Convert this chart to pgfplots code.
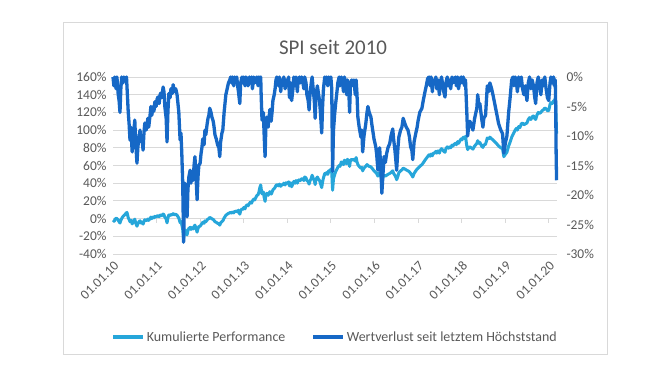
\documentclass[border=0pt]{standalone}
\usepackage{pgfplots}
\pgfplotsset{compat=1.18}
\usepackage{fontspec}
\setmainfont{Carlito}
\definecolor{lblue}{RGB}{38,166,218}
\definecolor{dblue}{RGB}{22,104,198}
\definecolor{gridc}{RGB}{217,217,217}
\definecolor{txt}{RGB}{89,89,89}
\begin{document}
\begin{tikzpicture}
\useasboundingbox (0bp,0bp) rectangle (670bp,377bp);
\fill[white] (0bp,0bp) rectangle (670bp,377bp);
\draw[gridc, line width=0.8bp] (63bp,23bp) rectangle (607bp,355bp);
\node[text=txt, font=\fontsize{21}{25}\selectfont] at (333bp,330bp) {SPI seit 2010};
\begin{axis}[
  at={(113bp,123bp)}, anchor=south west, scale only axis,
  width=444bp, height=177bp,
  xmin=2010, xmax=2020.19, ymin=-40, ymax=160,
  clip=false,
  axis line style={draw=none}, major tick style={draw=none},
  ytick={-40,-20,0,20,40,60,80,100,120,140,160},
  yticklabels={-40\%,-20\%,0\%,20\%,40\%,60\%,80\%,100\%,120\%,140\%,160\%},
  xtick={2010,2011,2012,2013,2014,2015,2016,2017,2018,2019,2020},
  xticklabels={01.01.10,01.01.11,01.01.12,01.01.13,01.01.14,01.01.15,01.01.16,01.01.17,01.01.18,01.01.19,01.01.20},
  ymajorgrids, grid style={gridc, line width=0.8bp},
  yticklabel style={text=txt, font=\fontsize{13.5}{15}\selectfont, xshift=-3bp},
  xticklabel style={text=txt, font=\fontsize{13.5}{15}\selectfont, rotate=45, anchor=east, inner sep=1bp, yshift=-9bp, xshift=-3bp},
]
\pgfplotsinvokeforeach{2010,2011,...,2020}{\draw[gridc, line width=0.8bp] (axis cs:#1,0) -- ([yshift=-4bp]axis cs:#1,0);}
\addplot[lblue, line width=3bp, line join=round] coordinates {
(2010.00,-1.6)(2010.03,-3)(2010.05,-0.5)(2010.08,0.5)(2010.11,-1)(2010.14,-3.5)(2010.16,-5)(2010.18,-2)(2010.21,1)(2010.24,3)(2010.27,4.5)(2010.30,6)(2010.32,7)(2010.35,1)(2010.37,-1)(2010.39,-3.5)(2010.42,-2)(2010.44,-6)(2010.46,-4)(2010.50,-0.7)(2010.52,-4.8)(2010.55,-8.6)(2010.57,-6)(2010.59,-4)(2010.62,-2.5)(2010.64,-5)(2010.66,-4)(2010.69,-6.2)(2010.71,-3.2)(2010.73,-1.3)(2010.76,-2.6)(2010.78,-1.5)(2010.80,-0.5)(2010.82,-2)(2010.85,0)(2010.87,1.7)(2010.89,0)(2010.92,1.7)(2010.94,0.8)(2010.96,2.5)(2010.99,1.6)
(2011.01,2.9)(2011.03,3.4)(2011.06,2.2)(2011.08,3.8)(2011.10,4.1)(2011.12,3.3)(2011.15,5.2)(2011.17,4.3)(2011.19,1.6)(2011.22,-0.5)(2011.24,-4.8)(2011.26,0.6)(2011.28,4)(2011.31,3.3)(2011.33,4.9)(2011.36,4)(2011.38,5.6)(2011.41,4.3)(2011.44,4.9)(2011.47,3.8)(2011.51,0.7)(2011.54,-4.5)(2011.56,-3.2)(2011.58,-7.1)(2011.60,-12.3)(2011.62,-23)(2011.63,-18.7)(2011.65,-12.3)(2011.67,-15.5)(2011.70,-18.4)(2011.72,-13.3)(2011.74,-11.2)(2011.77,-9.9)(2011.79,-12.3)(2011.81,-10.1)(2011.84,-11.7)(2011.86,-9)(2011.88,-7.4)(2011.90,-10.1)(2011.93,-15.3)(2011.95,-11.2)(2011.97,-9)
(2012.00,-8.6)(2012.02,-6.9)(2012.04,-5.8)(2012.06,-4.2)(2012.09,-5.3)(2012.11,-2.6)(2012.13,-3.5)(2012.16,-1.6)(2012.18,-0.5)(2012.20,0)(2012.22,1.3)(2012.25,0.6)(2012.27,-0.3)(2012.30,-1)(2012.32,-2.1)(2012.34,-3.5)(2012.37,-4.2)(2012.40,-5.3)(2012.43,-5.8)(2012.45,-7.4)(2012.47,-4.8)(2012.50,-3.2)(2012.52,-2.6)(2012.55,0.6)(2012.57,2.2)(2012.59,3.8)(2012.62,4.9)(2012.65,5.9)(2012.68,6.5)(2012.70,7.2)(2012.72,6.3)(2012.74,7.6)(2012.77,6.5)(2012.79,8.2)(2012.81,7.9)(2012.84,8.8)(2012.86,7.4)(2012.88,9.5)(2012.91,5)(2012.93,9)(2012.96,11)(2012.98,10.5)
(2013.00,12.5)(2013.03,11)(2013.05,14)(2013.08,15.5)(2013.10,14.5)(2013.13,17)(2013.15,18.5)(2013.18,17.5)(2013.20,20)(2013.23,22)(2013.25,21)(2013.28,24)(2013.30,26)(2013.33,27)(2013.35,30)(2013.37,35)(2013.39,38)(2013.40,34)(2013.42,28)(2013.45,30)(2013.47,24)(2013.49,19.5)(2013.51,27)(2013.53,28.6)(2013.56,26.3)(2013.58,28.3)(2013.60,30.4)(2013.63,27.7)(2013.65,29.7)(2013.67,32.5)(2013.70,33.9)(2013.72,35.2)(2013.74,37.3)(2013.76,38.5)(2013.80,37)(2013.82,39)(2013.85,36.5)(2013.87,38.5)(2013.90,38)(2013.92,40)(2013.95,38)(2013.97,40.5)
(2014.00,39.5)(2014.03,41.5)(2014.05,37)(2014.08,40.5)(2014.10,36)(2014.13,39.5)(2014.15,42)(2014.18,40)(2014.20,43)(2014.23,40)(2014.25,43)(2014.28,44)(2014.30,43)(2014.33,45)(2014.35,45)(2014.38,43)(2014.40,47)(2014.43,46)(2014.45,43)(2014.48,42)(2014.50,39)(2014.52,42.5)(2014.55,45.5)(2014.57,49)(2014.60,45)(2014.62,43)(2014.64,38.5)(2014.66,44.5)(2014.69,47)(2014.71,45)(2014.74,43)(2014.76,40)(2014.79,35)(2014.81,41.5)(2014.83,46)(2014.86,51)(2014.88,50)(2014.90,52)(2014.93,50)(2014.95,54)(2014.98,53)
(2015.00,56)(2015.02,52.5)(2015.04,32)(2015.06,45)(2015.09,50)(2015.11,53)(2015.14,56)(2015.16,58)(2015.19,60)(2015.21,59)(2015.24,64)(2015.26,63)(2015.29,61)(2015.31,66)(2015.34,64)(2015.36,62)(2015.38,67)(2015.41,64)(2015.43,59)(2015.45,66)(2015.48,67)(2015.51,66)(2015.53,67)(2015.56,65)(2015.58,69)(2015.60,64)(2015.62,61)(2015.65,59)(2015.69,57)(2015.71,58)(2015.73,54)(2015.76,57)(2015.80,59)(2015.83,61)(2015.85,60)(2015.88,59)(2015.92,58.5)(2015.94,57)(2015.96,56)(2015.99,54)
(2016.03,52)(2016.05,51)(2016.08,48)(2016.10,51)(2016.12,52)(2016.15,47)(2016.17,43)(2016.20,47)(2016.22,49)(2016.25,48)(2016.28,49)(2016.31,50)(2016.35,51)(2016.38,52)(2016.42,54)(2016.44,51)(2016.47,49)(2016.49,47)(2016.51,44)(2016.54,48)(2016.56,52)(2016.60,54)(2016.63,55)(2016.66,57)(2016.70,56)(2016.73,55)(2016.77,54)(2016.80,53)(2016.83,51)(2016.86,49)(2016.88,47)(2016.91,51)(2016.95,54)(2016.98,56)
(2017.00,57)(2017.04,59)(2017.09,61)(2017.12,63)(2017.16,66)(2017.19,68)(2017.22,70)(2017.25,72)(2017.28,70.5)(2017.30,73)(2017.33,71)(2017.35,74)(2017.38,74)(2017.41,76)(2017.43,74)(2017.46,76.5)(2017.49,74)(2017.51,77)(2017.54,79)(2017.57,77.5)(2017.59,76)(2017.62,75)(2017.64,79)(2017.67,81)(2017.70,79.5)(2017.72,81)(2017.75,80)(2017.78,83)(2017.80,82)(2017.83,84)(2017.86,85)(2017.88,83.5)(2017.91,87)(2017.93,85)(2017.96,88)(2017.99,90)
(2018.01,89)(2018.04,92)(2018.07,90.5)(2018.09,93)(2018.12,82)(2018.14,78)(2018.16,80)(2018.19,81)(2018.22,80)(2018.26,78.5)(2018.30,82)(2018.35,85)(2018.37,88)(2018.40,85)(2018.42,86)(2018.46,82)(2018.49,80.5)(2018.51,83)(2018.55,84)(2018.59,91)(2018.62,90)(2018.65,92)(2018.69,90)(2018.72,89)(2018.76,87)(2018.80,85)(2018.85,82)(2018.90,80)(2018.94,79)(2018.97,70)
(2019.01,73)(2019.04,75)(2019.08,82)(2019.11,86)(2019.15,92)(2019.18,95)(2019.20,97)(2019.23,100)(2019.26,102)(2019.28,100)(2019.31,104)(2019.34,103)(2019.37,107)(2019.40,108)(2019.43,106)(2019.46,107)(2019.50,108)(2019.53,112)(2019.56,114)(2019.59,112)(2019.62,115)(2019.65,116)(2019.68,113)(2019.70,112)(2019.73,117)(2019.76,120)(2019.79,119)(2019.82,120)(2019.85,122)(2019.88,123)(2019.91,125)(2019.94,124)(2019.97,122)
(2020.00,122)(2020.03,129)(2020.05,131)(2020.08,130)(2020.11,133)(2020.13,132)(2020.15,136)(2020.16,130)(2020.17,114)(2020.18,96)
};
\end{axis}
\begin{axis}[
  at={(113bp,123bp)}, anchor=south west, scale only axis,
  width=444bp, height=177bp,
  xmin=2010, xmax=2020.19, ymin=-30, ymax=0,
  clip=false,
  hide x axis, axis y line*=right,
  axis line style={draw=none}, major tick style={draw=none},
  ytick={-30,-25,-20,-15,-10,-5,0},
  yticklabels={-30\%,-25\%,-20\%,-15\%,-10\%,-5\%,0\%},
  yticklabel style={text=txt, font=\fontsize{13.5}{15}\selectfont, xshift=6bp, anchor=west},
  legend columns=2,
  legend style={at={(0.5,-0.47)}, anchor=center, draw=none, fill=none, font=\fontsize{14}{16}\selectfont, text=txt,
    /tikz/every even column/.append style={column sep=24bp}},
  legend image code/.code={\draw[#1] (0bp,0bp) -- (30bp,0bp);},
]
\addlegendimage{lblue, line width=3.5bp}
\addlegendentry{Kumulierte Performance}
\addlegendimage{dblue, line width=3.5bp}
\addlegendentry{Wertverlust seit letztem Höchststand}
\addplot[dblue, line width=3.3bp, line join=round, forget plot] coordinates {
(2010.00,0)(2010.02,-1.5)(2010.04,0)(2010.07,-2)(2010.09,0)(2010.12,-3)(2010.14,-4)(2010.16,-6)(2010.18,-2)(2010.20,0)(2010.23,-1)(2010.25,0)(2010.28,-0.5)(2010.31,0)(2010.33,-3)(2010.35,-6)(2010.37,-8)(2010.39,-10.7)(2010.41,-8.5)(2010.44,-12.7)(2010.46,-10)(2010.48,-9)(2010.50,-7.3)(2010.52,-11)(2010.55,-14.6)(2010.57,-12)(2010.59,-10.5)(2010.62,-9)(2010.64,-11)(2010.66,-10)(2010.69,-12.4)(2010.71,-9.5)(2010.73,-7.8)(2010.76,-9)(2010.78,-8)(2010.80,-7)(2010.82,-8.5)(2010.85,-6.5)(2010.87,-5)(2010.89,-6.5)(2010.92,-5)(2010.94,-5.8)(2010.96,-4.2)(2010.99,-5)
(2011.01,-3.8)(2011.03,-3.4)(2011.06,-4.5)(2011.08,-3)(2011.10,-2.7)(2011.12,-3.5)(2011.15,-1.7)(2011.17,-2.5)(2011.19,-5)(2011.22,-7)(2011.24,-11)(2011.26,-6)(2011.28,-2.8)(2011.31,-3.5)(2011.33,-2)(2011.36,-2.8)(2011.38,-1.3)(2011.41,-2.5)(2011.44,-2)(2011.47,-3)(2011.51,-5.9)(2011.54,-10.7)(2011.56,-9.5)(2011.58,-13.2)(2011.60,-18)(2011.62,-28)(2011.63,-24)(2011.65,-18)(2011.67,-21)(2011.70,-23.7)(2011.72,-19)(2011.74,-17)(2011.77,-15.8)(2011.79,-18)(2011.81,-16)(2011.84,-17.5)(2011.86,-15)(2011.88,-13.5)(2011.90,-16)(2011.93,-20.8)(2011.95,-17)(2011.97,-15)
(2012.00,-14.6)(2012.02,-13)(2012.04,-12)(2012.06,-10.5)(2012.09,-11.5)(2012.11,-9)(2012.13,-9.8)(2012.16,-8)(2012.18,-7)(2012.20,-6.5)(2012.22,-5.3)(2012.25,-6)(2012.27,-6.8)(2012.30,-7.5)(2012.32,-8.5)(2012.34,-9.8)(2012.37,-10.5)(2012.40,-11.5)(2012.43,-12)(2012.45,-13.5)(2012.47,-11)(2012.50,-9.5)(2012.52,-9)(2012.55,-6)(2012.57,-4.5)(2012.59,-3)(2012.62,-2)(2012.65,-1)(2012.68,-0.5)(2012.70,0)(2012.72,-1)(2012.74,0)(2012.77,-1.5)(2012.79,0)(2012.81,-0.5)(2012.84,0)(2012.86,-1.5)(2012.88,-2.5)(2012.91,-4.5)(2012.93,-1)(2012.96,0)(2012.98,-1)
(2013.00,0)(2013.03,-1.5)(2013.05,0)(2013.08,-0.5)(2013.10,-1.5)(2013.13,0)(2013.15,-1)(2013.18,0)(2013.20,-2)(2013.23,0)(2013.25,-1)(2013.28,-0.5)(2013.30,0)(2013.33,-1.5)(2013.35,0)(2013.37,-0.5)(2013.39,0)(2013.40,-3)(2013.42,-7.3)(2013.45,-6)(2013.47,-10)(2013.49,-13.5)(2013.51,-8)(2013.53,-6.8)(2013.56,-8.5)(2013.58,-7)(2013.60,-5.5)(2013.63,-7.5)(2013.65,-6)(2013.67,-4)(2013.70,-3)(2013.72,-2)(2013.74,-0.5)(2013.76,0)(2013.80,-1.5)(2013.82,0)(2013.85,-2.5)(2013.87,-0.5)(2013.90,-1)(2013.92,0)(2013.95,-2)(2013.97,-0.5)
(2014.00,-1.5)(2014.03,0)(2014.05,-3.5)(2014.08,-1)(2014.10,-4)(2014.13,-2)(2014.15,0)(2014.18,-1.5)(2014.20,0)(2014.23,-2.5)(2014.25,-0.5)(2014.28,0)(2014.30,-1)(2014.33,0)(2014.35,-0.5)(2014.38,-2)(2014.40,0)(2014.43,-1)(2014.45,-3)(2014.48,-4)(2014.50,-5.6)(2014.52,-3)(2014.55,-1)(2014.57,0)(2014.60,-2.5)(2014.62,-4)(2014.64,-7)(2014.66,-3)(2014.69,-1.5)(2014.71,-2.5)(2014.74,-4)(2014.76,-6)(2014.79,-9.5)(2014.81,-5)(2014.83,-2)(2014.86,0)(2014.88,-1)(2014.90,0)(2014.93,-1.5)(2014.95,0)(2014.98,-0.5)
(2015.00,0)(2015.02,-2)(2015.04,-16)(2015.06,-9)(2015.09,-6)(2015.11,-4.5)(2015.14,-2.5)(2015.16,-1)(2015.19,0)(2015.21,-1.5)(2015.24,0)(2015.26,-0.5)(2015.29,-2.5)(2015.31,0)(2015.34,-1)(2015.36,-3)(2015.38,-0.5)(2015.41,-2)(2015.43,-6)(2015.45,-1)(2015.48,-0.5)(2015.51,-1.5)(2015.53,-0.5)(2015.56,-3)(2015.58,-0.5)(2015.60,-3)(2015.62,-6.8)(2015.65,-8.5)(2015.69,-10.2)(2015.71,-9)(2015.73,-12.7)(2015.76,-10)(2015.80,-8)(2015.83,-6)(2015.85,-5)(2015.88,-6)(2015.92,-6.8)(2015.94,-8)(2015.96,-9)(2015.99,-10.5)
(2016.03,-11.8)(2016.05,-13)(2016.08,-15.8)(2016.10,-13.5)(2016.12,-12)(2016.15,-16)(2016.17,-19.7)(2016.20,-16)(2016.22,-13.5)(2016.25,-14.5)(2016.28,-13)(2016.31,-12)(2016.35,-11.3)(2016.38,-10)(2016.42,-8.8)(2016.44,-10.5)(2016.47,-12.4)(2016.49,-14)(2016.51,-15.8)(2016.54,-12)(2016.56,-10.2)(2016.60,-9)(2016.63,-8.5)(2016.66,-7)(2016.70,-7.9)(2016.73,-8.5)(2016.77,-9)(2016.80,-10)(2016.83,-11.8)(2016.86,-12.5)(2016.88,-14)(2016.91,-11)(2016.95,-9.5)(2016.98,-8.5)
(2017.00,-7.5)(2017.04,-6)(2017.09,-5.3)(2017.12,-4)(2017.16,-2.5)(2017.19,-1.5)(2017.22,-0.3)(2017.25,0)(2017.28,-1.5)(2017.30,0)(2017.33,-2.5)(2017.35,-0.5)(2017.38,-1)(2017.41,0)(2017.43,-2)(2017.46,-0.5)(2017.49,-3)(2017.51,-1)(2017.54,0)(2017.57,-1.5)(2017.59,-2.5)(2017.62,-3.4)(2017.64,-1)(2017.67,0)(2017.70,-1.5)(2017.72,-0.5)(2017.75,-2)(2017.78,0)(2017.80,-1)(2017.83,-0.5)(2017.86,0)(2017.88,-1.5)(2017.91,0)(2017.93,-2)(2017.96,-0.5)(2017.99,0)
(2018.01,-1)(2018.04,0)(2018.07,-1.5)(2018.09,-0.5)(2018.12,-6)(2018.14,-10)(2018.16,-8.5)(2018.19,-7.5)(2018.22,-8)(2018.26,-9)(2018.30,-7)(2018.35,-5.3)(2018.37,-3)(2018.40,-5)(2018.42,-4.5)(2018.46,-7)(2018.49,-8.5)(2018.51,-7)(2018.55,-6.5)(2018.59,-1.5)(2018.62,-2.5)(2018.65,-1)(2018.69,-2)(2018.72,-3)(2018.76,-4.5)(2018.80,-6)(2018.85,-7.9)(2018.90,-9)(2018.94,-9.6)(2018.97,-12.9)
(2019.01,-11)(2019.04,-10)(2019.08,-6)(2019.11,-3.8)(2019.15,-0.5)(2019.18,0)(2019.20,-1.5)(2019.23,0)(2019.26,-1)(2019.28,-2.5)(2019.31,0)(2019.34,-1.5)(2019.37,0)(2019.40,-2)(2019.43,-3)(2019.46,-1.5)(2019.50,-4)(2019.53,-1)(2019.56,0)(2019.59,-2)(2019.62,-0.5)(2019.65,-1.5)(2019.68,-3.5)(2019.70,-4.5)(2019.73,-1)(2019.76,0)(2019.79,-1.5)(2019.82,-3)(2019.85,-0.5)(2019.88,-1.5)(2019.91,0)(2019.94,-2)(2019.97,-3.5)
(2020.00,-4)(2020.03,-1)(2020.05,0)(2020.08,-1)(2020.11,0)(2020.13,-1.5)(2020.15,-0.5)(2020.16,-5)(2020.17,-12.9)(2020.18,-17.5)
};
\end{axis}
\end{tikzpicture}
\end{document}
